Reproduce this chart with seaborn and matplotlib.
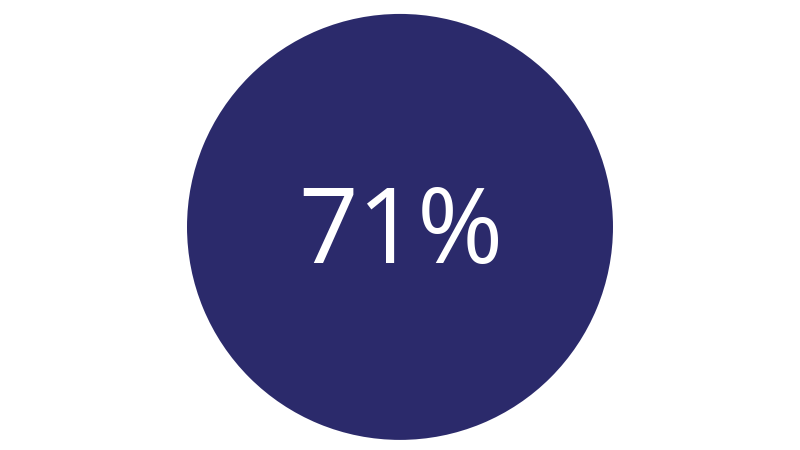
import matplotlib
matplotlib.use("Agg")
import matplotlib.pyplot as plt
import seaborn as sns

# single percentage shown as a filled disc
labels = ["share"]
values = [71]
fill_color = "#2B2A6B"

sns.set_theme(style="white")
plt.rcParams["font.family"] = ["Open Sans", "DejaVu Sans"]

fig = plt.figure(figsize=(8, 4.5), dpi=100)
ax = fig.add_axes([0, 0, 1, 1])

# whole disc, the number sits on top of it
ax.pie([100], colors=[fill_color], radius=1.0, startangle=90,
       wedgeprops=dict(linewidth=0))
ax.text(0.005, -0.04, f"{values[0]}%", ha="center", va="center",
        color="white", fontsize=75)

ax.set_xlim(-1.878, 1.878)
ax.set_ylim(-1.047, 1.065)
ax.set_aspect("equal")
ax.axis("off")

fig.savefig("out.png", dpi=100, facecolor="white")
